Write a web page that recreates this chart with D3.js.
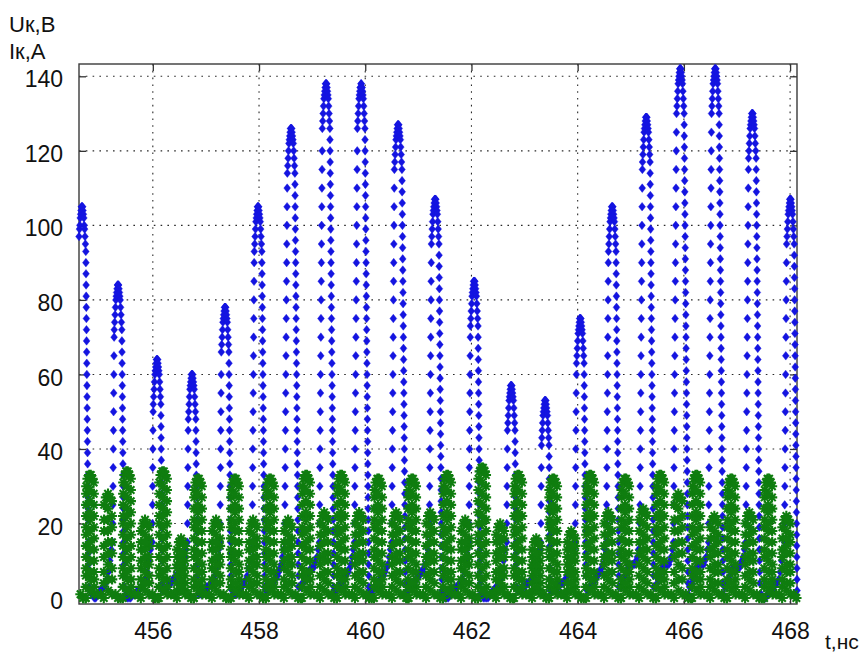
<!DOCTYPE html>
<html><head><meta charset="utf-8">
<script src="https://cdn.jsdelivr.net/npm/d3@7"></script>
<style>body{margin:0;background:#fff}svg{display:block}</style>
</head><body>
<svg id="c" width="866" height="652"></svg>
<script>
// ---------- axis settings ----------
const X_DOMAIN = [454.61, 468.13];
const Y_DOMAIN = [-1.6, 143.3];
const xTicks = [456, 458, 460, 462, 464, 466, 468];
const yTicks = [0, 20, 40, 60, 80, 100, 120, 140];
const xLabel = "t,нс";
const yLabelU = "Uк,В";
const yLabelI = "Iк,А";

// ---------- blue series: collector voltage Uк (V) ----------
// each pulse = rising edge + crest + falling edge, sampled with their own steps (ns)
const DT_RISE = 0.0025, DT_TOP = 0.0075, DT_FALL = 0.0018;
const bluePeakT = [454.667,455.345,456.080,456.739,457.361,457.982,458.604,459.263,459.923,460.620,461.317,462.052,462.749,463.389,464.049,464.651,465.292,465.933,466.592,467.289,468.005];
const blueRise = [
[89,91],
[15,20,25,30,35,40,45,50,55,60,65,70],
[15,20,25,30,35,40,45,50],
[15,20,25,30,35,40,45],
[15,20,25,30,35,40,45,50,55,60],
[15,20,25,30,35,40,45,50,55,60,65,70,75,80,85,90],
[15,20,25,30,35,40,45,50,55,60,65,70,75,80,85,90,95,100,105,110],
[15,20,25,30,35,40,45,50,55,60,65,70,75,80,85,90,95,100,105,110,115,120],
[15,20,25,30,35,40,45,50,55,60,65,70,75,80,85,90,95,100,105,110,115,120],
[15,20,25,30,35,40,45,50,55,60,65,70,75,80,85,90,95,100,105,110],
[15,20,25,30,35,40,45,50,55,60,65,70,75,80,85,90],
[15,20,25,30,35,40,45,50,55,60,65,70],
[15,20,25,30,35,40],
[15,20,25,30,35],
[15,20,25,30,35,40,45,50,55,60],
[15,20,25,30,35,40,45,50,55,60,65,70,75,80,85,90],
[15,20,25,30,35,40,45,50,55,60,65,70,75,80,85,90,95,100,105,110,115],
[15,20,25,30,35,40,45,50,55,60,65,70,75,80,85,90,95,100,105,110,115,120,125],
[15,20,25,30,35,40,45,50,55,60,65,70,75,80,85,90,95,100,105,110,115,120,125],
[15,20,25,30,35,40,45,50,55,60,65,70,75,80,85,90,95,100,105,110,115],
[15,20,25,30,35,40,45,50,55,60,65,70,75,80,85,90]
];
const blueTop = [
[93,95,97,99,100,102,103,104,105,105,105,105,104,103,102,100,99,97,95,93],
[72,74,76,78,80,81,82,83,84,84,84,84,83,82,81,80,78,76,74,72],
[52,54,56,58,60,61,62,63,64,64,64,64,63,62,61,60,58,56,54,52],
[48,50,52,54,56,57,58,59,60,60,60,60,59,58,57,56,54,52,50,48],
[66,68,70,72,74,75,76,77,78,78,78,78,77,76,75,74,72,70,68,66],
[93,95,97,99,101,102,103,104,105,105,105,105,104,103,102,101,99,97,95,93],
[114,116,118,120,122,123,124,125,126,126,126,126,125,124,123,122,120,118,116,114],
[126,128,130,132,134,135,136,137,138,138,138,138,137,136,135,134,132,130,128,126],
[126,128,130,132,134,135,136,137,137,138,138,137,137,136,135,134,132,130,128,126],
[115,117,119,121,123,124,125,126,127,127,127,127,126,125,124,123,121,119,117,115],
[95,97,99,101,103,104,105,106,107,107,107,107,106,105,104,103,101,99,97,95],
[73,75,77,79,81,82,83,84,85,85,85,85,84,83,82,81,79,77,75,73],
[45,47,49,51,53,54,55,56,57,57,57,57,56,55,54,53,51,49,47,45],
[41,43,45,47,49,50,51,52,53,53,53,53,52,51,50,49,47,45,43,41],
[63,65,67,69,71,72,73,74,75,75,75,75,74,73,72,71,69,67,65,63],
[93,95,97,99,101,102,103,104,105,105,105,105,104,103,102,101,99,97,95,93],
[117,119,121,123,125,126,127,128,129,129,129,129,128,127,126,125,123,121,119,117],
[130,132,134,136,138,139,140,141,142,142,142,142,141,140,139,138,136,134,132,130],
[130,132,134,136,138,139,140,141,142,142,142,142,141,140,139,138,136,134,132,130],
[118,120,122,124,126,127,128,129,130,130,130,130,129,128,127,126,124,122,120,118],
[95,97,99,101,103,104,105,106,107,107,107,107,106,105,104,103,101,99,97,95]
];
const blueFall = [
[90,87,84,81,78,75,72,69,66,63,60,57,54,51,48,45,42,39,36,33,30,27,24,21,18,15,12,9,6,3],
[69,66,63,60,57,54,51,48,45,42,39,36,33,30,27,24,21,18,15,12,9,6,3],
[49,46,43,40,37,34,31,28,25,22,19,16,13,10,7,4,2],
[45,42,39,36,33,30,27,24,21,18,15,12,9,6,3],
[63,60,57,54,51,48,45,42,39,36,33,30,27,24,21,18,15,12,9,6,3],
[90,87,84,81,78,75,72,69,66,63,60,57,54,51,48,45,42,39,36,33,30,27,24,21,18,15,12,9,6,3],
[111,108,105,102,99,96,93,90,87,84,81,78,75,72,69,66,63,60,57,54,51,48,45,42,39,36,33,30,27,24,21,18,15,12,9,6,3],
[123,120,117,114,111,108,105,102,99,96,93,90,87,84,81,78,75,72,69,66,63,60,57,54,51,48,45,42,39,36,33,30,27,24,21,18,15,12,9,6,3],
[123,120,117,114,111,108,105,102,99,96,93,90,87,84,81,78,75,72,69,66,63,60,57,54,51,48,45,42,39,36,33,30,27,24,21,18,15,12,9,6,3],
[112,109,106,103,100,97,94,91,88,85,82,79,76,73,70,67,64,61,58,55,52,49,46,43,40,37,34,31,28,25,22,19,16,13,10,7,4,1],
[92,89,86,83,80,77,74,71,68,65,62,59,56,53,50,47,44,41,38,35,32,29,26,23,20,17,14,11,8,5,2],
[70,67,64,61,58,55,52,49,46,43,40,37,34,31,28,25,22,19,16,13,10,7,4,1],
[42,39,36,33,30,27,24,21,18,15,12,9,6,3],
[38,35,32,29,26,23,20,17,14,11,8,5,2],
[60,57,54,51,48,45,42,39,36,33,30,27,24,21,18,15,12,9,6,3],
[90,87,84,81,78,75,72,69,66,63,60,57,54,51,48,45,42,39,36,33,30,27,24,21,18,15,12,9,6,3],
[114,111,108,105,102,99,96,93,90,87,84,81,78,75,72,69,66,63,60,57,54,51,48,45,42,39,36,33,30,27,24,21,18,15,12,9,6,3],
[127,124,121,118,115,112,109,106,103,100,97,94,91,88,85,82,79,76,73,70,67,64,61,58,55,52,49,46,43,40,37,34,31,28,25,22,19,16,13,10,7,4,1],
[127,124,121,118,115,112,109,106,103,100,97,94,91,88,85,82,79,76,73,70,67,64,61,58,55,52,49,46,43,40,37,34,31,28,25,22,19,16,13,10,7,4,1],
[115,112,109,106,103,100,97,94,91,88,85,82,79,76,73,70,67,64,61,58,55,52,49,46,43,40,37,34,31,28,25,22,19,16,13,10,7,4,1],
[92,89,86,83,80,77,74,71,68,65,62,59,56,53,50,47,44,41,38,35,32,29,26,23,20,17,14,11,8,5,2]
];
// low-voltage samples between consecutive pulses (gap k lies after pulse k)
const blueLow = [
[2,1,1,0,0,1,1,2,2,3,3,4,5,7,10,13],
[1,0,0,0,1,1,1,2,2,3,3,4,5,7,10,13],
[2,2,3,3,4,4,5,5,6,6,6,7,8,9,11,13],
[1,1,1,2,2,2,3,3,3,4,4,5,6,8,10,13],
[2,1,1,1,1,2,2,3,3,4,4,5,6,8,10,13],
[2,2,2,3,3,4,4,5,5,6,6,7,8,9,11,13],
[3,3,4,4,5,6,6,7,7,8,8,8,9,10,11,13],
[2,2,3,3,4,4,5,5,6,6,7,7,8,9,11,13],
[2,2,2,3,3,4,4,5,5,6,6,7,8,9,11,13],
[2,2,3,3,4,4,5,5,6,6,7,7,8,9,11,13],
[1,0,0,0,1,1,2,2,3,3,4,4,5,7,10,13],
[1,0,0,0,0,1,1,2,2,3,3,4,5,7,10,13],
[2,2,2,3,3,3,4,4,4,5,5,6,7,8,10,13],
[2,2,2,3,3,3,4,4,4,5,5,6,7,8,10,13],
[2,2,3,3,4,4,5,5,6,6,7,7,8,9,11,13],
[3,3,4,5,6,7,8,9,9,9,9,9,9,10,11,13],
[3,3,4,5,6,7,8,9,9,9,9,9,9,10,11,13],
[3,3,4,5,6,7,8,9,9,9,9,9,9,10,11,13],
[3,3,4,5,6,7,8,8,8,8,8,8,9,10,11,13],
[1,0,0,0,1,1,2,2,3,3,4,4,5,7,10,13]
];

// ---------- green series: collector current Iк (A) ----------
// time of the main current peak of each cycle, ns
const greenPeakT = [454.158,454.817,455.514,456.193,456.852,457.549,458.208,458.887,459.546,460.243,460.884,461.543,462.202,462.881,463.540,464.237,464.896,465.556,466.234,466.893,467.590];
// sample phases inside a cycle relative to the main peak, ns
const greenPhase = [
 -0.0791,-0.0782,-0.0772,-0.0763,-0.0754,-0.0744,-0.0735,-0.0725,-0.0716,-0.0706,-0.0697,-0.0688,
 -0.0452,-0.0151,0.0151,0.0452,
 0.0688,0.0697,0.0706,0.0716,0.0725,0.0735,0.0744,0.0754,0.0763,0.0772,0.0782,0.0791,
 0.0047,0.0038,0.0028,0.0019,0.0009,0,-0.0009,-0.0019,-0.0028,-0.0038,-0.0047,
 0.1507,0.2072,
 0.2600,0.2609,0.2619,0.2628,0.2637,0.2647,0.2656,0.2666,
 0.3014,0.3391,0.3768,
 0.4107,0.4116,0.4126,0.4135,0.4145,0.4154,0.4163,0.4173,
 0.3429,0.3419,0.3410,0.3400,0.3391,0.3382,0.3372,0.3363,
 0.4804,0.5275,0.5746];
const greenCycles = [
[0,3,6,8,11,14,17,19,22,25,28,30, 32,33,33,32, 31,28,25,22,19,16,13,10,7,5,3,1, 2,5,7,10,13,15,18,21,23,26,29, 1,1, 0,3,5,8,11,13,16,19, 21,22,21, 20,17,15,12,9,7,4,1, 2,4,7,9,12,14,16,18, 1,0,0],
[0,3,6,8,11,14,17,19,22,25,28,30, 32,33,33,32, 31,28,25,22,19,16,13,10,7,5,3,1, 2,5,7,10,13,15,18,21,23,26,29, 1,1, 0,4,7,11,14,18,21,25, 27,28,27, 26,22,19,15,12,8,5,1, 2,5,9,12,15,18,21,24, 1,0,0],
[0,3,6,8,11,14,17,20,22,25,28,31, 33,34,34,33, 32,29,26,23,20,17,14,11,8,5,3,1, 2,5,7,10,13,16,19,22,24,27,30, 1,1, 0,3,5,8,10,13,15,18, 20,21,20, 19,16,14,11,9,6,4,1, 2,4,7,9,11,13,15,17, 1,0,0],
[0,3,6,8,11,14,17,20,22,25,28,31, 33,34,34,33, 32,29,26,23,20,17,14,11,8,5,3,1, 2,5,7,10,13,16,19,22,24,27,30, 1,1, 0,2,4,6,8,9,11,13, 15,16,15, 14,12,10,8,6,4,2,1, 2,3,5,7,9,10,11,12, 1,0,0],
[0,3,5,8,11,13,16,19,21,24,27,29, 31,32,32,31, 30,27,24,21,18,15,12,9,7,5,3,1, 2,4,7,10,12,15,18,20,23,25,28, 1,1, 0,3,5,8,10,13,15,18, 20,21,20, 19,16,14,11,9,6,4,1, 2,4,7,9,11,13,15,17, 1,0,0],
[0,3,5,8,11,13,16,19,21,24,27,29, 31,32,32,31, 30,27,24,21,18,15,12,9,7,5,3,1, 2,4,7,10,12,15,18,20,23,25,28, 1,1, 0,3,5,8,10,13,15,18, 20,21,20, 19,16,14,11,9,6,4,1, 2,4,7,9,11,13,15,17, 1,0,0],
[0,3,5,8,11,13,16,19,21,24,27,29, 31,32,32,31, 30,27,24,21,18,15,12,9,7,5,3,1, 2,4,7,10,12,15,18,20,23,25,28, 1,1, 0,3,5,8,10,13,15,18, 20,21,20, 19,16,14,11,9,6,4,1, 2,4,7,9,11,13,15,17, 1,0,0],
[0,3,6,8,11,14,17,19,22,25,28,30, 32,33,33,32, 31,28,25,22,19,16,13,10,7,5,3,1, 2,5,7,10,13,15,18,21,23,26,29, 1,1, 0,3,6,9,11,14,17,20, 22,23,22, 21,18,15,12,10,7,4,1, 2,5,7,10,12,15,17,19, 1,0,0],
[0,3,6,8,11,14,17,19,22,25,28,30, 32,33,33,32, 31,28,25,22,19,16,13,10,7,5,3,1, 2,5,7,10,13,15,18,21,23,26,29, 1,1, 0,3,6,9,11,14,17,20, 22,23,22, 21,18,15,12,10,7,4,1, 2,5,7,10,12,15,17,19, 1,0,0],
[0,3,5,8,11,13,16,19,21,24,27,29, 31,32,32,31, 30,27,24,21,18,15,12,9,7,5,3,1, 2,4,7,10,12,15,18,20,23,25,28, 1,1, 0,3,6,9,11,14,17,20, 22,23,22, 21,18,15,12,10,7,4,1, 2,5,7,10,12,15,17,19, 1,0,0],
[0,3,5,8,11,13,16,19,21,24,27,29, 31,32,32,31, 30,27,24,21,18,15,12,9,7,5,3,1, 2,4,7,10,12,15,18,20,23,25,28, 1,1, 0,3,6,9,11,14,17,20, 22,23,22, 21,18,15,12,10,7,4,1, 2,5,7,10,12,15,17,19, 1,0,0],
[0,3,6,8,11,14,17,19,22,25,28,30, 32,33,33,32, 31,28,25,22,19,16,13,10,7,5,3,1, 2,5,7,10,13,15,18,21,23,26,29, 1,1, 0,3,5,8,10,13,15,18, 20,21,20, 19,16,14,11,9,6,4,1, 2,4,7,9,11,13,15,17, 1,0,0],
[0,3,6,9,12,15,17,20,23,26,29,32, 34,35,35,34, 33,30,27,24,21,18,15,12,9,6,3,1, 2,5,8,11,14,17,20,22,25,28,31, 1,1, 0,2,5,7,10,12,15,17, 19,20,19, 18,16,13,11,8,6,3,1, 2,4,6,8,11,13,15,16, 1,0,0],
[0,3,6,8,11,14,17,19,22,25,28,30, 32,33,33,32, 31,28,25,22,19,16,13,10,7,5,3,1, 2,5,7,10,13,15,18,21,23,26,29, 1,1, 0,2,4,6,8,9,11,13, 15,16,15, 14,12,10,8,6,4,2,1, 2,3,5,7,9,10,11,12, 1,0,0],
[0,3,5,8,11,13,16,19,21,24,27,29, 31,32,32,31, 30,27,24,21,18,15,12,9,7,5,3,1, 2,4,7,10,12,15,18,20,23,25,28, 1,1, 0,2,4,7,9,11,13,15, 17,18,17, 16,14,12,10,7,5,3,1, 2,4,6,8,10,11,13,14, 1,0,0],
[0,3,6,8,11,14,17,19,22,25,28,30, 32,33,33,32, 31,28,25,22,19,16,13,10,7,5,3,1, 2,5,7,10,13,15,18,21,23,26,29, 1,1, 0,3,6,9,11,14,17,20, 22,23,22, 21,18,15,12,10,7,4,1, 2,5,7,10,12,15,17,19, 1,0,0],
[0,3,5,8,11,13,16,19,21,24,27,29, 31,32,32,31, 30,27,24,21,18,15,12,9,7,5,3,1, 2,4,7,10,12,15,18,20,23,25,28, 1,1, 0,3,6,9,12,15,18,21, 23,24,23, 22,19,16,13,10,7,4,1, 2,5,8,11,13,15,17,20, 1,0,0],
[0,3,6,8,11,14,17,19,22,25,28,30, 32,33,33,32, 31,28,25,22,19,16,13,10,7,5,3,1, 2,5,7,10,13,15,18,21,23,26,29, 1,1, 0,4,7,11,14,18,21,25, 27,28,27, 26,22,19,15,12,8,5,1, 2,5,9,12,15,18,21,24, 1,0,0],
[0,3,6,8,11,14,17,19,22,25,28,30, 32,33,33,32, 31,28,25,22,19,16,13,10,7,5,3,1, 2,5,7,10,13,15,18,21,23,26,29, 1,1, 0,3,5,8,11,13,16,19, 21,22,21, 20,17,15,12,9,7,4,1, 2,4,7,9,12,14,16,18, 1,0,0],
[0,3,5,8,11,13,16,19,21,24,27,29, 31,32,32,31, 30,27,24,21,18,15,12,9,7,5,3,1, 2,4,7,10,12,15,18,20,23,25,28, 1,1, 0,3,6,9,11,14,17,20, 22,23,22, 21,18,15,12,10,7,4,1, 2,5,7,10,12,15,17,19, 1,0,0],
[0,3,5,8,11,13,16,19,21,24,27,29, 31,32,32,31, 30,27,24,21,18,15,12,9,7,5,3,1, 2,4,7,10,12,15,18,20,23,25,28, 1,1, 0,3,5,8,11,13,16,19, 21,22,21, 20,17,15,12,9,7,4,1, 2,4,7,9,12,14,16,18, 1,0,0]
];

// ---------- build point lists ----------
const bluePts = [];
const spans = [];
bluePeakT.forEach((tp, k) => {
  const top = blueTop[k], rise = blueRise[k], fall = blueFall[k];
  const t0 = tp - (top.length - 1) / 2 * DT_TOP;
  const t1 = tp + (top.length - 1) / 2 * DT_TOP;
  rise.forEach((v, i) => bluePts.push({t: t0 - (rise.length - i) * DT_RISE, v}));
  top.forEach((v, i) => bluePts.push({t: t0 + i * DT_TOP, v}));
  fall.forEach((v, i) => bluePts.push({t: t1 + (i + 1) * DT_FALL, v}));
  spans.push([t0 - rise.length * DT_RISE, t1 + fall.length * DT_FALL]);
});
blueLow.forEach((row, k) => {
  const a = spans[k][1], b = spans[k + 1][0], n = row.length;
  row.forEach((v, i) => bluePts.push({t: a + (i + 1) * (b - a) / (n + 1), v}));
});
const greenPts = [];
greenCycles.forEach((row, k) => row.forEach((v, i) => greenPts.push({t: greenPeakT[k] + greenPhase[i], v})));
const inside = p => p.t >= X_DOMAIN[0] - 0.004 && p.t <= X_DOMAIN[1] + 0.004;

// ---------- drawing ----------
const L = 79, T = 64, R = 797, B = 604;
const x = d3.scaleLinear().domain(X_DOMAIN).range([L, R]);
const y = d3.scaleLinear().domain(Y_DOMAIN).range([B, T]);
const svg = d3.select("#c");
const FONT = "'Liberation Sans', Arial, Helvetica, sans-serif";

// grid
const grid = svg.append("g").attr("stroke", "#2a2a2a").attr("stroke-width", 1.1).attr("stroke-dasharray", "1.6,5.2");
grid.selectAll("line.gx").data(xTicks).join("line").attr("class", "gx")
  .attr("x1", d => x(d)).attr("x2", d => x(d)).attr("y1", T).attr("y2", B);
grid.selectAll("line.gy").data(yTicks).join("line").attr("class", "gy")
  .attr("x1", L).attr("x2", R).attr("y1", d => y(d)).attr("y2", d => y(d));

// axes with inward ticks on all four sides
function styleAxis(g) {
  g.select(".domain").remove();
  g.attr("font-family", FONT).attr("font-size", 23).style("color", "#333");
  g.selectAll(".tick line").attr("stroke-width", 1.3);
  g.selectAll(".tick text").attr("fill", "#111");
}
svg.append("g").attr("transform", `translate(0,${B})`)
  .call(d3.axisBottom(x).tickValues(xTicks).tickFormat(d3.format("d")).tickSize(-7).tickPadding(19)).call(styleAxis);
svg.append("g").attr("transform", `translate(0,${T})`)
  .call(d3.axisTop(x).tickValues(xTicks).tickFormat("").tickSize(-7)).call(styleAxis);
svg.append("g").attr("transform", `translate(${L},0)`)
  .call(d3.axisLeft(y).tickValues(yTicks).tickFormat(d3.format("d")).tickSize(-7).tickPadding(16)).call(styleAxis)
  .selectAll(".tick text").attr("dy", "0.46em");
svg.append("g").attr("transform", `translate(${R},0)`)
  .call(d3.axisRight(y).tickValues(yTicks).tickFormat("").tickSize(-7)).call(styleAxis);

// frame
svg.append("rect").attr("x", L).attr("y", T).attr("width", R - L).attr("height", B - T)
  .attr("fill", "none").attr("stroke", "#3a3a3a").attr("stroke-width", 1.4);

// blue diamonds
const DIAMOND = "M0,-4.3L3.4,0L0,4.3L-3.4,0Z";
svg.append("g").attr("fill", "#1414e0").attr("stroke", "#1414e0").attr("stroke-width", 0.4)
  .selectAll("path").data(bluePts.filter(inside)).join("path")
  .attr("d", DIAMOND).attr("transform", d => `translate(${x(d.t).toFixed(2)},${y(d.v).toFixed(2)})`);

// green asterisks
const STAR = "M-5.2,0H5.2M0,-5.2V5.2M-3.7,-3.7L3.7,3.7M-3.7,3.7L3.7,-3.7";
svg.append("g").attr("fill", "none").attr("stroke", "#0f7d0f").attr("stroke-width", 2.1)
  .selectAll("path").data(greenPts.filter(inside)).join("path")
  .attr("d", STAR).attr("transform", d => `translate(${x(d.t).toFixed(2)},${y(d.v).toFixed(2)})`);

// axis titles
const titles = svg.append("g").attr("font-family", FONT).attr("font-size", 22).attr("fill", "#111");
titles.append("text").attr("x", 9).attr("y", 32).text(yLabelU);
titles.append("text").attr("x", 9).attr("y", 59).text(yLabelI);
titles.append("text").attr("x", 825).attr("y", 649).attr("font-size", 21).text(xLabel);
</script>
</body></html>
